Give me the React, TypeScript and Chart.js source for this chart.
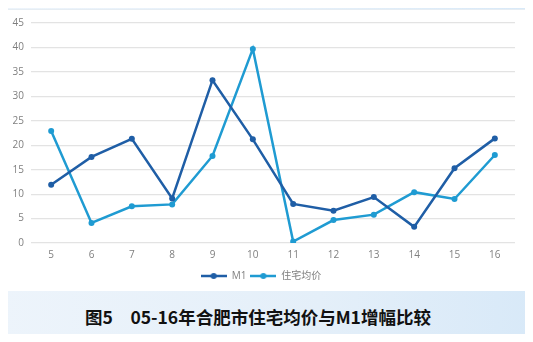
import React, { useEffect, useRef } from "react";
import { Chart, registerables } from "chart.js";

Chart.register(...registerables);

const categories = ["5", "6", "7", "8", "9", "10", "11", "12", "13", "14", "15", "16"];
const m1Values = [11.9, 17.6, 21.3, 9.1, 33.3, 21.2, 8.0, 6.6, 9.4, 3.3, 15.3, 21.4];
const priceValues = [22.9, 4.1, 7.5, 7.9, 17.8, 39.7, 0.3, 4.7, 5.8, 10.4, 9.0, 18.0];
const seriesNames = ["M1", "住宅均价"];
const caption = "图5　05-16年合肥市住宅均价与M1增幅比较";

const M1_COLOR = "#1f5ea6";
const PRICE_COLOR = "#1f9bd2";

function legendIcon(color: string) {
  const c = document.createElement("canvas");
  c.width = 26;
  c.height = 8;
  const ctx = c.getContext("2d")!;
  ctx.strokeStyle = color;
  ctx.lineWidth = 2.5;
  ctx.beginPath();
  ctx.moveTo(0, 4);
  ctx.lineTo(26, 4);
  ctx.stroke();
  ctx.fillStyle = color;
  ctx.beginPath();
  ctx.arc(13, 4, 3, 0, Math.PI * 2);
  ctx.fill();
  return c;
}

export default function App() {
  const ref = useRef<HTMLCanvasElement>(null);
  useEffect(() => {
    if (!ref.current) return;
    const icons = [legendIcon(M1_COLOR), legendIcon(PRICE_COLOR)];
    const chart = new Chart(ref.current, {
      type: "line",
      data: {
        labels: categories,
        datasets: [
          {
            label: seriesNames[0],
            data: m1Values,
            borderColor: M1_COLOR,
            backgroundColor: M1_COLOR,
            borderWidth: 2.5,
            pointRadius: 3,
            pointBackgroundColor: M1_COLOR,
            pointBorderWidth: 0,
            tension: 0,
          },
          {
            label: seriesNames[1],
            data: priceValues,
            borderColor: PRICE_COLOR,
            backgroundColor: PRICE_COLOR,
            borderWidth: 2.5,
            pointRadius: 3,
            pointBackgroundColor: PRICE_COLOR,
            pointBorderWidth: 0,
            tension: 0,
          },
        ],
      },
      options: {
        animation: false,
        responsive: false,
        layout: { padding: { left: 0, right: 10, top: 6, bottom: 0 } },
        plugins: {
          tooltip: { enabled: false },
          legend: {
            position: "bottom",
            labels: {
              usePointStyle: true,
              pointStyleWidth: 26,
              boxHeight: 8,
              padding: 4,
              color: "#7f7f7f",
              font: { family: "'Open Sans', 'Noto Sans CJK SC', sans-serif", size: 10 },
              generateLabels: (ch: any) =>
                ch.data.datasets.map((ds: any, i: number) => ({
                  text: ds.label,
                  pointStyle: icons[i],
                  fillStyle: ds.borderColor,
                  strokeStyle: ds.borderColor,
                  lineWidth: 0,
                  hidden: false,
                  datasetIndex: i,
                  fontColor: "#7f7f7f",
                })),
            },
          },
        },
        scales: {
          x: {
            offset: true,
            grid: { display: false, drawTicks: false },
            border: { display: false },
            ticks: {
              color: "#7f7f7f",
              padding: 6,
              font: { family: "'Open Sans', sans-serif", size: 10 },
            },
          },
          y: {
            min: 0,
            max: 45,
            afterFit: (s: any) => {
              s.width = 24;
            },
            grid: { color: "#e3e3e3", lineWidth: 1.2, drawTicks: false },
            border: { display: false },
            ticks: {
              stepSize: 5,
              color: "#7f7f7f",
              padding: 7,
              font: { family: "'Open Sans', sans-serif", size: 10 },
            },
          },
        },
      },
    });
    return () => chart.destroy();
  }, []);

  return (
    <div
      style={{
        position: "relative",
        width: 533,
        height: 342,
        margin: -8,
        background: "linear-gradient(90deg, #edf4fb 0%, #e4eff9 60%, #d8e9f8 100%)",
        overflow: "hidden",
      }}
    >
      <div
        style={{
          position: "absolute",
          left: 6,
          top: 9,
          width: 519,
          height: 282,
          background: "#ffffff",
          borderLeft: "1px solid #d5e0ea",
          borderTop: "1px solid #e6edf3",
          boxSizing: "border-box",
        }}
      >
        <canvas ref={ref} width={518} height={281} style={{ display: "block" }} />
      </div>
      <div
        style={{
          position: "absolute",
          left: 0,
          top: 306,
          width: 516,
          textAlign: "center",
          fontFamily: "'Noto Sans CJK SC', sans-serif",
          fontWeight: 700,
          fontSize: 17.5,
          color: "#111",
          lineHeight: "22px",
        }}
      >
        {caption}
      </div>
    </div>
  );
}
